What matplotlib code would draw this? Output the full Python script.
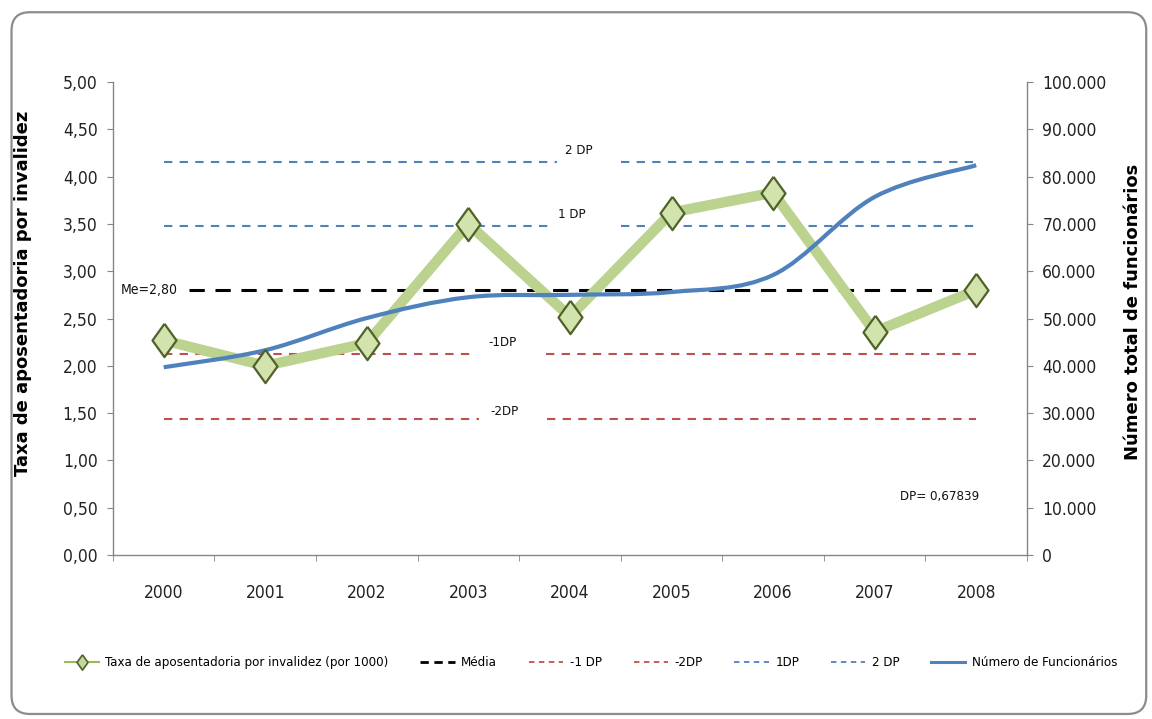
import os
import numpy as np
import matplotlib
matplotlib.use("Agg")
import matplotlib.pyplot as plt
from matplotlib import font_manager
from matplotlib.font_manager import FontProperties
from matplotlib.path import Path
from matplotlib.patches import PathPatch, FancyBboxPatch
from matplotlib.lines import Line2D
from matplotlib.ticker import FuncFormatter, MultipleLocator

# dados
anos = ['2000', '2001', '2002', '2003', '2004', '2005', '2006', '2007', '2008']
taxa = [2.27, 2.00, 2.24, 3.50, 2.52, 3.62, 3.83, 2.36, 2.80]
funcionarios = [39700, 43300, 50100, 54500, 55000, 55600, 59200, 75700, 82400]
media = 2.80
dp = 0.67839

verde = '#bcd38f'
azul = '#4f81bd'
vermelho = '#c0504d'
cinza = '#868686'


def fonte_estreita():
    # procura uma fonte condensada instalada
    arquivos = [f.fname for f in font_manager.fontManager.ttflist]
    preferidas = ['LiberationSansNarrow-Regular', 'DejaVuSansCondensed.', 'RobotoCondensed-Regular',
                  'Roboto_Condensed-Regular', 'OpenSans_Condensed-Regular', 'OpenSansCondensed']
    for nome in preferidas:
        for arq in arquivos:
            if nome.lower() in os.path.basename(arq).lower():
                return arq
    for arq in arquivos:
        base = os.path.basename(arq).lower()
        if ('narrow' in base or 'condensed' in base) and 'bold' not in base and 'italic' not in base \
                and 'oblique' not in base:
            return arq
    return None


arq_fonte = fonte_estreita()


def fp(tamanho):
    if arq_fonte:
        return FontProperties(fname=arq_fonte, size=tamanho)
    return FontProperties(family='DejaVu Sans', stretch='condensed', size=tamanho)


def curva_suave(xs, ys):
    # curva de Bezier pelos pontos (estilo "linha suavizada")
    pts = np.column_stack([xs, ys]).astype(float)
    ext = np.vstack([pts[0], pts, pts[-1]])
    verts = [pts[0]]
    codes = [Path.MOVETO]
    for i in range(len(pts) - 1):
        p0, p1, p2, p3 = ext[i], ext[i + 1], ext[i + 2], ext[i + 3]
        verts += [p1 + (p2 - p0) / 6, p2 - (p3 - p1) / 6, p2]
        codes += [Path.CURVE4] * 3
    return Path(verts, codes)


fig = plt.figure(figsize=(11.52, 7.19), dpi=100)
fig.patch.set_facecolor('white')

# moldura arredondada
moldura = FancyBboxPatch((0.010, 0.007), 0.985, 0.976, boxstyle='round,pad=0,rounding_size=0.016',
                         transform=fig.transFigure, facecolor='none', edgecolor='#8c8c8c', lw=1.6,
                         mutation_aspect=1152 / 719)
fig.patches.append(moldura)

ax1 = fig.add_axes([0.098, 0.228, 0.7935, 0.658])
ax2 = ax1.twinx()

x = np.arange(len(anos))
ax1.set_xlim(-0.5, len(anos) - 0.5)
ax1.set_ylim(0, 5)
ax2.set_ylim(0, 100000)

# linhas de referência (com espaço para os rótulos)
ax1.plot([0.25, 8.0], [media, media], color='black', lw=2.2, dashes=(5, 3.5), zorder=2)
for nivel, cor, segmentos in [(-1, vermelho, [(0, 3.03), (3.76, 8.0)]),
                              (-2, vermelho, [(0, 3.10), (3.77, 8.0)]),
                              (1, azul, [(0, 3.80), (4.50, 8.0)]),
                              (2, azul, [(0, 3.87), (4.50, 8.0)])]:
    y = media + nivel * dp
    for a, b in segmentos:
        ax1.plot([a, b], [y, y], color=cor, lw=1.5, dashes=(4, 3.5), zorder=2)

# taxa de aposentadoria
ax1.plot(x, taxa, color=verde, lw=7.5, solid_joinstyle='miter', zorder=3)

# número de funcionários (eixo da direita)
curva = PathPatch(curva_suave(x, funcionarios), facecolor='none', edgecolor=azul, lw=3,
                  transform=ax2.transData, zorder=4, capstyle='butt')
ax1.add_patch(curva)

losango = [(0, 1), (0.72, 0), (0, -1), (-0.72, 0), (0, 1)]
ax1.plot(x, taxa, linestyle='none', marker=losango, markersize=24, markerfacecolor='#d3e3ae',
         markeredgecolor='#4f6228', markeredgewidth=1.6, zorder=5)

# rótulos no gráfico
kw = dict(color='#111111', ha='center', va='center')
ax1.text(4.09, media + 2 * dp + 0.12, '2 DP', fontproperties=fp(9.5), **kw)
ax1.text(4.02, media + dp + 0.12, '1 DP', fontproperties=fp(9.5), **kw)
ax1.text(3.34, media - dp + 0.12, '-1DP', fontproperties=fp(9.5), **kw)
ax1.text(3.36, media - 2 * dp + 0.07, '-2DP', fontproperties=fp(9.5), **kw)
ax1.text(-0.14, media, 'Me=2,80', fontproperties=fp(10), **kw)
ax1.text(7.64, 0.62, 'DP= 0,67839', fontproperties=fp(9.5), **kw)

# eixos
for ax in (ax1, ax2):
    ax.spines['top'].set_visible(False)
    for lado in ('left', 'right', 'bottom'):
        ax.spines[lado].set_color(cinza)
        ax.spines[lado].set_linewidth(1)
ax2.spines['left'].set_visible(False)
ax2.spines['bottom'].set_visible(False)
ax1.spines['right'].set_visible(False)

ax1.set_xticks(x)
ax1.set_xticklabels(anos)
ax1.set_xticks(np.arange(-0.5, len(anos)), minor=True)
ax1.tick_params(axis='x', which='major', length=0, pad=21, labelcolor='#222222')
ax1.tick_params(axis='x', which='minor', length=4, direction='out', color=cinza)

ax1.yaxis.set_major_locator(MultipleLocator(0.5))
ax1.yaxis.set_major_formatter(FuncFormatter(lambda v, p: f'{v:.2f}'.replace('.', ',')))
ax1.tick_params(axis='y', length=4, direction='out', color=cinza, pad=7, labelcolor='#222222')

ax2.yaxis.set_major_locator(MultipleLocator(10000))
ax2.yaxis.set_major_formatter(FuncFormatter(lambda v, p: f'{int(v):,}'.replace(',', '.')))
ax2.tick_params(axis='y', length=4, direction='out', color=cinza, pad=7, labelcolor='#222222')

for lbl in ax1.get_xticklabels() + ax1.get_yticklabels() + ax2.get_yticklabels():
    lbl.set_fontproperties(fp(12.5))

ax1.set_ylabel('Taxa de aposentadoria por invalidez', fontsize=13, fontweight='bold',
               fontfamily='DejaVu Sans')
ax1.yaxis.set_label_coords(-0.089, 0.554)
ax2.set_ylabel('Número total de funcionários', fontsize=13, fontweight='bold',
               fontfamily='DejaVu Sans', rotation=90)
ax2.yaxis.set_label_coords(1.106, 0.514)

# legenda
handles = [
    Line2D([], [], color='#9bbb59', lw=1.5, marker=losango, markersize=11,
           markerfacecolor='#c3d69b', markeredgecolor='#4f6228', markeredgewidth=1.2),
    Line2D([], [], color='black', lw=2, dashes=(3, 2)),
    Line2D([], [], color=vermelho, lw=1.3, dashes=(3, 2.5)),
    Line2D([], [], color=vermelho, lw=1.3, dashes=(3, 2.5)),
    Line2D([], [], color=azul, lw=1.3, dashes=(3, 2.5)),
    Line2D([], [], color=azul, lw=1.3, dashes=(3, 2.5)),
    Line2D([], [], color=azul, lw=2.2),
]
rotulos = ['Taxa de aposentadoria por invalidez (por 1000)', 'Média', '-1 DP', '-2DP', '1DP',
           '2 DP', 'Número de Funcionários']
fig.legend(handles, rotulos, loc='center', bbox_to_anchor=(0.513, 0.078), ncol=7, frameon=False,
           handlelength=2.6, columnspacing=2.4, handletextpad=0.5, prop=fp(9.5))

fig.savefig('out.png', dpi=100, facecolor='white')
